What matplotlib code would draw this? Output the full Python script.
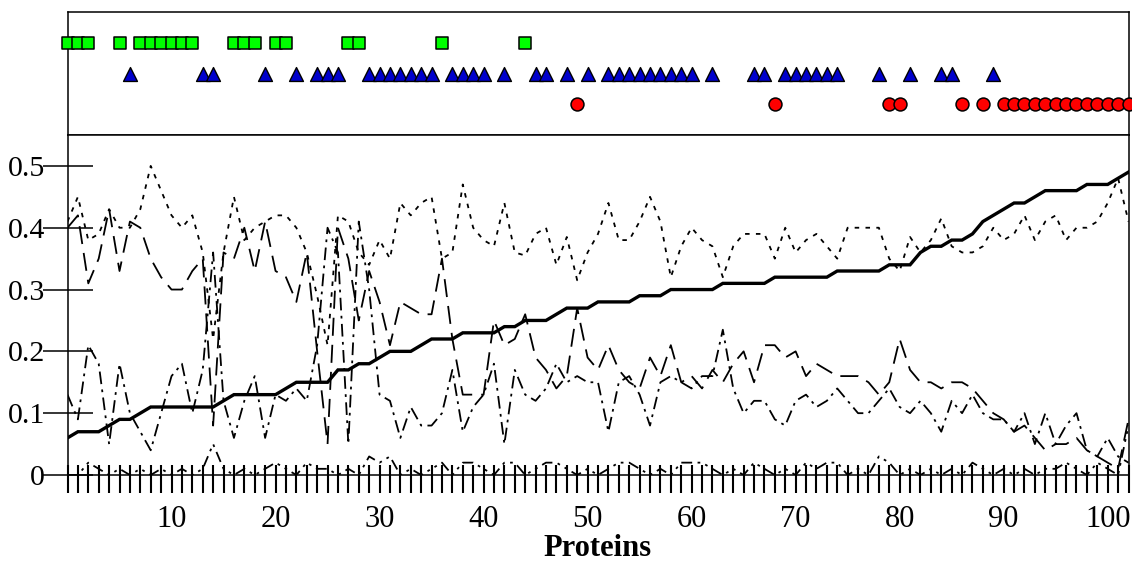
import matplotlib
matplotlib.use('Agg')
import matplotlib.pyplot as plt
from matplotlib.ticker import MultipleLocator, FuncFormatter

plt.rcParams['font.family'] = ['Liberation Serif', 'DejaVu Serif']

# ---------------- data ----------------
proteins = list(range(0, 103))

square_pos = [0, 1, 2, 5, 7, 8, 9, 10, 11, 12, 16, 17, 18, 20, 21, 27, 28, 36, 44]
triangle_pos = [6, 13, 14, 19, 22, 24, 25, 26, 29, 30, 31, 32, 33, 34, 35, 37, 38, 39, 40,
                42, 45, 46, 48, 50, 52, 53, 54, 55, 56, 57, 58, 59, 60, 62, 66, 67, 69, 70,
                71, 72, 73, 74, 78, 81, 84, 85, 89]
circle_pos = [49, 68, 79, 80, 86, 88, 90, 91, 92, 93, 94, 95, 96, 97, 98, 99, 100, 101, 102]

solid = [0.06, 0.07, 0.07, 0.07, 0.08, 0.09, 0.09, 0.10, 0.11, 0.11,
         0.11, 0.11, 0.11, 0.11, 0.11, 0.12, 0.13, 0.13, 0.13, 0.13,
         0.13, 0.14, 0.15, 0.15, 0.15, 0.15, 0.17, 0.17, 0.18, 0.18,
         0.19, 0.20, 0.20, 0.20, 0.21, 0.22, 0.22, 0.22, 0.23, 0.23,
         0.23, 0.23, 0.24, 0.24, 0.25, 0.25, 0.25, 0.26, 0.27, 0.27,
         0.27, 0.28, 0.28, 0.28, 0.28, 0.29, 0.29, 0.29, 0.30, 0.30,
         0.30, 0.30, 0.30, 0.31, 0.31, 0.31, 0.31, 0.31, 0.32, 0.32,
         0.32, 0.32, 0.32, 0.32, 0.33, 0.33, 0.33, 0.33, 0.33, 0.34,
         0.34, 0.34, 0.36, 0.37, 0.37, 0.38, 0.38, 0.39, 0.41, 0.42,
         0.43, 0.44, 0.44, 0.45, 0.46, 0.46, 0.46, 0.46, 0.47, 0.47,
         0.47, 0.48, 0.49]

dotted = [0.41, 0.45, 0.38, 0.39, 0.43, 0.40, 0.40, 0.43, 0.50, 0.46,
          0.42, 0.40, 0.42, 0.36, 0.22, 0.36, 0.45, 0.38, 0.40, 0.41,
          0.42, 0.42, 0.40, 0.36, 0.29, 0.21, 0.42, 0.41, 0.36, 0.34,
          0.38, 0.35, 0.44, 0.42, 0.44, 0.45, 0.35, 0.36, 0.47, 0.40,
          0.38, 0.37, 0.44, 0.36, 0.355, 0.39, 0.40, 0.34, 0.385, 0.315,
          0.36, 0.39, 0.44, 0.38, 0.38, 0.41, 0.45, 0.41, 0.32, 0.37,
          0.40, 0.38, 0.37, 0.32, 0.37, 0.39, 0.39, 0.39, 0.35, 0.40,
          0.36, 0.38, 0.39, 0.37, 0.35, 0.40, 0.40, 0.40, 0.40, 0.35,
          0.33, 0.385, 0.36, 0.38, 0.415, 0.37, 0.36, 0.36, 0.37, 0.40,
          0.38, 0.39, 0.42, 0.38, 0.41, 0.42, 0.38, 0.40, 0.40, 0.41,
          0.44, 0.48, 0.41]

dashed = [0.40, 0.42, 0.31, 0.35, 0.43, 0.33, 0.41, 0.40, 0.35, 0.32,
          0.30, 0.30, 0.33, 0.35, 0.08, 0.36, 0.35, 0.40, 0.33, 0.41,
          0.33, 0.32, 0.28, 0.36, 0.20, 0.05, 0.40, 0.35, 0.25, 0.33,
          0.28, 0.21, 0.28, 0.27, 0.26, 0.26, 0.35, 0.22, 0.13, 0.13,
          0.13, 0.25, 0.21, 0.22, 0.26, 0.19, 0.17, 0.14, 0.16, 0.27,
          0.19, 0.17, 0.21, 0.17, 0.15, 0.14, 0.19, 0.16, 0.21, 0.15,
          0.16, 0.14, 0.17, 0.15, 0.18, 0.20, 0.15, 0.21, 0.21, 0.19,
          0.20, 0.16, 0.18, 0.17, 0.16, 0.16, 0.16, 0.15, 0.13, 0.15,
          0.22, 0.17, 0.15, 0.15, 0.14, 0.15, 0.15, 0.14, 0.12, 0.10,
          0.09, 0.07, 0.08, 0.06, 0.04, 0.05, 0.05, 0.06, 0.04, 0.03,
          0.02, 0.01, 0.09]

dashdot = [0.13, 0.09, 0.21, 0.18, 0.05, 0.18, 0.10, 0.07, 0.04, 0.10,
           0.16, 0.18, 0.10, 0.17, 0.36, 0.12, 0.06, 0.12, 0.16, 0.06,
           0.13, 0.12, 0.14, 0.12, 0.21, 0.40, 0.36, 0.05, 0.41, 0.30,
           0.13, 0.12, 0.06, 0.11, 0.08, 0.08, 0.10, 0.17, 0.07, 0.11,
           0.13, 0.18, 0.05, 0.17, 0.13, 0.12, 0.14, 0.18, 0.15, 0.16,
           0.15, 0.15, 0.07, 0.15, 0.16, 0.13, 0.08, 0.15, 0.16, 0.15,
           0.14, 0.16, 0.16, 0.235, 0.14, 0.10, 0.12, 0.12, 0.09, 0.08,
           0.12, 0.13, 0.11, 0.12, 0.14, 0.12, 0.10, 0.10, 0.12, 0.14,
           0.11, 0.10, 0.12, 0.10, 0.07, 0.12, 0.10, 0.13, 0.10, 0.09,
           0.09, 0.07, 0.10, 0.05, 0.10, 0.05, 0.08, 0.10, 0.04, 0.03,
           0.06, 0.03, 0.02]

near_zero = [0.00, 0.00, 0.02, 0.01, 0.00, 0.01, 0.00, 0.01, 0.00, 0.01,
             0.00, 0.01, 0.00, 0.01, 0.05, 0.01, 0.00, 0.01, 0.00, 0.01,
             0.02, 0.01, 0.00, 0.02, 0.01, 0.01, 0.00, 0.01, 0.00, 0.03,
             0.02, 0.03, 0.00, 0.01, 0.00, 0.01, 0.02, 0.00, 0.02, 0.02,
             0.01, 0.00, 0.02, 0.02, 0.00, 0.01, 0.02, 0.02, 0.01, 0.00,
             0.01, 0.00, 0.01, 0.02, 0.02, 0.01, 0.00, 0.01, 0.00, 0.02,
             0.02, 0.02, 0.01, 0.00, 0.01, 0.00, 0.02, 0.01, 0.00, 0.01,
             0.00, 0.02, 0.01, 0.02, 0.02, 0.00, 0.01, 0.00, 0.03, 0.02,
             0.00, 0.01, 0.00, 0.01, 0.00, 0.01, 0.00, 0.02, 0.01, 0.00,
             0.01, 0.00, 0.01, 0.00, 0.01, 0.01, 0.02, 0.01, 0.00, 0.02,
             0.01, 0.00, 0.08]

y_ticks = [0, 0.1, 0.2, 0.3, 0.4, 0.5]
y_ticklabels = ['0', '0.1', '0.2', '0.3', '0.4', '0.5']
x_labeled = [10, 20, 30, 40, 50, 60, 70, 80, 90, 100]
x_label = 'Proteins'

# ---------------- layout ----------------
W, H = 1132, 584
fig = plt.figure(figsize=(W / 100, H / 100), dpi=100)
L = 67.5 / W
R = 1128.5 / W
ax_top = fig.add_axes([L, 1 - 135 / H, R - L, (135 - 12) / H])
ax = fig.add_axes([L, 1 - 475 / H, R - L, (475 - 135) / H])

XMIN, XMAX = 0, 102

# ---------------- top panel ----------------
ax_top.scatter(square_pos, [3] * len(square_pos), marker='s', s=8.6 ** 2,
               facecolor='#00FF00', edgecolor='black', linewidth=1.1, clip_on=False, zorder=3)
ax_top.scatter(triangle_pos, [2] * len(triangle_pos), marker='^', s=10 ** 2,
               facecolor='#0000CC', edgecolor='black', linewidth=1.0, clip_on=False, zorder=3)
ax_top.scatter(circle_pos, [1] * len(circle_pos), marker='o', s=9.3 ** 2,
               facecolor='#FF0000', edgecolor='black', linewidth=1.1, clip_on=False, zorder=3)
ax_top.set_xlim(XMIN, XMAX)
ax_top.set_ylim(0, 4)
ax_top.set_xticks([])
ax_top.set_yticks([])
for s in ax_top.spines.values():
    s.set_linewidth(1.1)

# ---------------- bottom panel ----------------
lw_thin = 1.3
ax.plot(proteins, near_zero, color='black', lw=lw_thin, linestyle=(0, (6, 3, 1.5, 3, 1.5, 3)), zorder=2)
ax.plot(proteins, dashdot, color='black', lw=lw_thin, linestyle=(0, (7, 3, 1.5, 3)), zorder=2)
ax.plot(proteins, dashed, color='black', lw=lw_thin, linestyle=(0, (10, 5)), zorder=2)
ax.plot(proteins, dotted, color='black', lw=lw_thin, linestyle=(0, (2.5, 3.5)), zorder=2)
ax.plot(proteins, solid, color='black', lw=2.4, solid_joinstyle='miter', zorder=4)

ax.set_xlim(XMIN, XMAX)
ax.set_ylim(0, 0.55)
for s in ax.spines.values():
    s.set_linewidth(1.1)

ax.set_yticks(y_ticks)
ax.set_yticklabels(y_ticklabels)
ax.tick_params(axis='y', direction='inout', length=36, width=1.1, labelsize=21.5, pad=-1.8)

ax.xaxis.set_major_locator(MultipleLocator(1))
ax.xaxis.set_minor_locator(MultipleLocator(1))
ax.xaxis.remove_overlapping_locs = False
ax.xaxis.set_major_formatter(FuncFormatter(lambda v, p: str(int(round(v))) if int(round(v)) in x_labeled else ''))
ax.tick_params(axis='x', which='major', direction='out', length=12.6, width=1.5, labelsize=22, pad=9)
ax.tick_params(axis='x', which='minor', direction='in', length=7.2, width=1.5)

fig.text(597 / W, 1 - 549 / H, x_label, ha='center', va='center', fontsize=22, fontweight='bold')

fig.savefig('out.png', dpi=100)
